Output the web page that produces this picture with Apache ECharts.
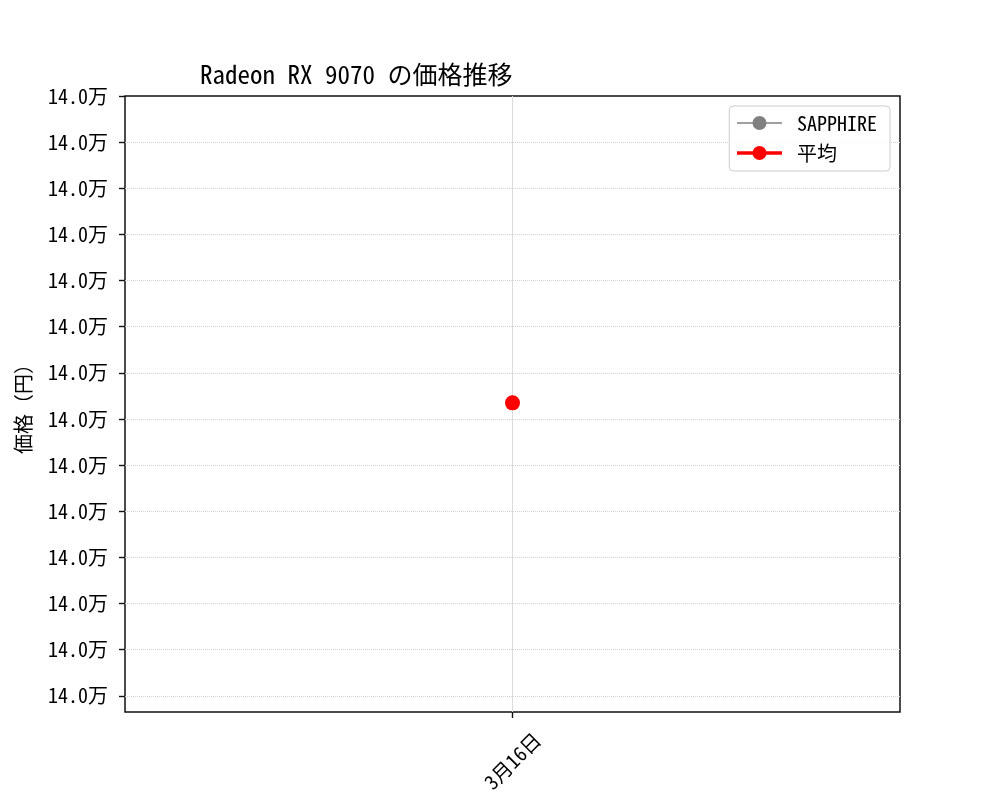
<!DOCTYPE html>
<html>
<head>
<meta charset="utf-8">
<script src="https://cdn.jsdelivr.net/npm/echarts@6/dist/echarts.min.js"></script>
<style>
  html, body { margin: 0; padding: 0; background: #ffffff; }
  #main { width: 1000px; height: 800px; }
</style>
</head>
<body>
<div id="main"></div>
<script>
var FONT = '"Noto Sans Mono CJK JP", "Noto Sans CJK JP", "DejaVu Sans Mono", monospace';

// data
var dates = ['3月16日'];
var sapphire = [139867];
var average = [139867];
// y range and tick values (all show as 14.0万)
var yMin = 139733;
var yMax = 140000;
var yTicks = [139740, 139760, 139780, 139800, 139820, 139840, 139860,
              139880, 139900, 139920, 139940, 139960, 139980, 140000];

var chart = echarts.init(document.getElementById('main'), null, { renderer: 'canvas' });

var option = {
  backgroundColor: '#ffffff',
  animation: false,
  textStyle: { fontFamily: FONT },
  title: {
    text: 'Radeon RX 9070 の価格推移',
    left: 200,
    top: 62,
    padding: 0,
    textStyle: { fontFamily: FONT, fontSize: 25, fontWeight: 'normal', color: '#000' }
  },
  legend: {
    orient: 'vertical',
    right: 110,
    top: 106,
    padding: [7, 13, 8, 6],
    itemWidth: 45,
    itemHeight: 17.5,
    itemGap: 10,
    borderColor: '#cccccc',
    borderWidth: 1,
    borderRadius: 4,
    backgroundColor: 'rgba(255,255,255,0.8)',
    textStyle: { fontFamily: FONT, fontSize: 20, color: '#000', padding: [0, 0, 0, 10] },
    data: [
      { name: 'SAPPHIRE', lineStyle: { width: 1.5 } },
      { name: '平均', lineStyle: { width: 3.5 } }
    ]
  },
  grid: {
    left: 125, right: 100, top: 96, bottom: 88,
    show: true, borderColor: '#111', borderWidth: 1.5,
    containLabel: false
  },
  xAxis: {
    type: 'category',
    data: dates,
    boundaryGap: true,
    axisLine: { show: false },
    axisTick: { show: true, alignWithLabel: true, length: 6, lineStyle: { color: '#111', width: 1.4 } },
    splitLine: { show: false },
    axisLabel: {
      rotate: 45, align: 'center', verticalAlign: 'middle', margin: 49,
      fontFamily: FONT, fontSize: 20, color: '#000'
    }
  },
  yAxis: {
    type: 'value',
    min: yMin,
    max: yMax,
    name: '価格（円）',
    nameLocation: 'middle',
    nameGap: 92,
    nameRotate: 90,
    nameTextStyle: { fontFamily: FONT, fontSize: 20, color: '#000' },
    axisLine: { show: false },
    axisTick: { show: true, length: 6, customValues: yTicks, lineStyle: { color: '#111', width: 1.4 } },
    axisLabel: {
      customValues: yTicks,
      margin: 17,
      fontFamily: FONT, fontSize: 20, color: '#000',
      formatter: function (v) { return (v / 10000).toFixed(1) + '万'; }
    },
    splitLine: { show: true, showMaxLine: false, lineStyle: { color: '#cfcfcf', width: 1, type: 'dotted' } }
  },
  series: [
    {
      name: 'SAPPHIRE',
      type: 'line',
      data: sapphire,
      color: '#808080',
      symbol: 'circle',
      symbolSize: 14,
      lineStyle: { width: 1.5, color: '#808080' },
      itemStyle: { color: '#808080' },
      z: 2,
      markLine: {
        silent: true,
        z: 1,
        symbol: 'none',
        label: { show: false },
        lineStyle: { color: '#dcdcdc', width: 1, type: 'solid' },
        data: [{ xAxis: dates[0] }]
      }
    },
    {
      name: '平均',
      type: 'line',
      data: average,
      color: '#ff0000',
      symbol: 'circle',
      symbolSize: 15,
      lineStyle: { width: 3.5, color: '#ff0000' },
      itemStyle: { color: '#ff0000' },
      z: 3
    }
  ]
};

chart.setOption(option);
</script>
</body>
</html>
